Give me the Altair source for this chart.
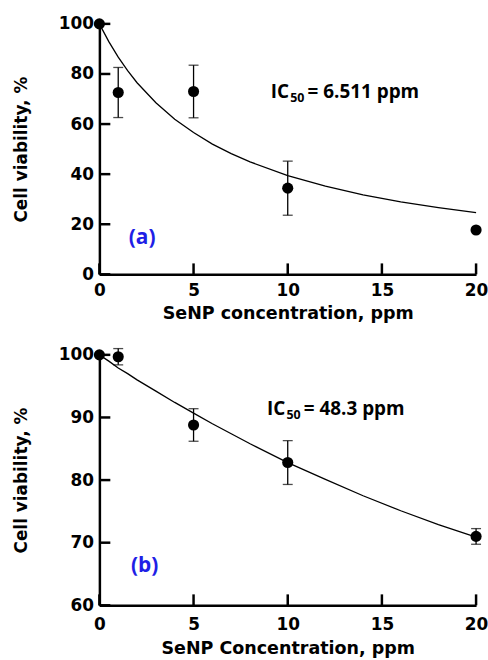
import altair as alt
import pandas as pd

# ---- data ----
conc = [0, 1, 5, 10, 20]
via_a = [100, 72.6, 73.0, 34.4, 17.7]
err_a = [0, 10.0, 10.5, 10.8, 0]
via_b = [100, 99.7, 88.8, 82.8, 71.0]
err_b = [0, 1.3, 2.6, 3.5, 1.25]

fit_x = [0, 0.5, 1, 1.5, 2, 3, 4, 5, 6, 7, 8, 10, 12, 14, 16, 18, 20]
fit_a = [100, 92.9, 86.7, 81.3, 76.5, 68.5, 61.9, 56.6, 52.0, 48.2, 44.9, 39.4, 35.2, 31.7, 28.9, 26.6, 24.6]
fit_b = [100, 99.0, 97.9, 97.0, 96.0, 94.2, 92.4, 90.7, 89.0, 87.4, 85.8, 82.8, 80.1, 77.5, 75.1, 72.9, 70.9]

x_ticks = [0, 5, 10, 15, 20]
y_ticks_a = [0, 20, 40, 60, 80, 100]
y_ticks_b = [60, 70, 80, 90, 100]

W, H = 379, 252
AX_FONT = "DejaVu Sans"
TXT_FONT = "Open Sans"


def panel(via, err, fit, yticks, ydom, xtitle, ic_val, ic_pos, tag, tag_pos, xlabpad, xtitlepad):
    xs = alt.Scale(domain=[0, 20], nice=False, zero=False)
    ys = alt.Scale(domain=ydom, nice=False, zero=False)
    xax = alt.Axis(values=x_ticks, title=xtitle, ticks=False, tickSize=0, grid=False,
                   labelFlush=False, labelPadding=xlabpad, titlePadding=xtitlepad,
                   domainWidth=2.5, domainColor="black", labelColor="black", titleColor="black",
                   labelFont=AX_FONT, labelFontSize=17, labelFontWeight="bold",
                   titleFont=AX_FONT, titleFontSize=17.6, titleFontWeight="bold")
    yax = alt.Axis(values=yticks, title="Cell viability, %", ticks=False, tickSize=0, grid=False,
                   labelFlush=False, labelPadding=6, titlePadding=28,
                   domainWidth=2.5, domainColor="black", labelColor="black", titleColor="black",
                   labelFont=AX_FONT, labelFontSize=17, labelFontWeight="bold",
                   titleFont=AX_FONT, titleFontSize=17, titleFontWeight="bold")

    def X(f):
        return alt.X(f, type="quantitative", scale=xs, axis=xax, title=xtitle)

    def Y(f):
        return alt.Y(f, type="quantitative", scale=ys, axis=yax, title="Cell viability, %")

    pts = pd.DataFrame({"x": conc, "y": via, "e": err})
    pts["lo"] = pts["y"] - pts["e"]
    pts["hi"] = pts["y"] + pts["e"]
    bars = pts[pts["e"] > 0]
    curve = pd.DataFrame({"x": fit_x, "y": fit})

    line = alt.Chart(curve).mark_line(color="black", strokeWidth=1.3).encode(x=X("x"), y=Y("y"))
    erule = alt.Chart(bars).mark_rule(color="black", strokeWidth=1.3).encode(
        x=X("x"), y=Y("lo"), y2="hi")
    cap_hi = alt.Chart(bars).mark_tick(color="black", orient="horizontal", size=10, thickness=1.3).encode(
        x=X("x"), y=Y("hi"))
    cap_lo = alt.Chart(bars).mark_tick(color="black", orient="horizontal", size=10, thickness=1.3).encode(
        x=X("x"), y=Y("lo"))
    dots = alt.Chart(pts).mark_circle(color="black", opacity=1, size=125).encode(x=X("x"), y=Y("y"))

    ytk = alt.Chart(pd.DataFrame({"v": yticks})).mark_rule(color="black", strokeWidth=2.5).encode(
        y=Y("v"), x=alt.value(0), x2=alt.value(11))
    xtk = alt.Chart(pd.DataFrame({"v": x_ticks})).mark_rule(color="black", strokeWidth=2.5).encode(
        x=X("v"), y=alt.value(H), y2=alt.value(H - 11))

    tx, ty = ic_pos
    ic1 = alt.Chart(pd.DataFrame({"t": ["IC"]})).mark_text(
        align="left", baseline="middle", font=TXT_FONT, fontSize=19, fontWeight="bold", color="black"
    ).encode(x=alt.datum(tx), y=alt.datum(ty), text="t:N")
    ic2 = alt.Chart(pd.DataFrame({"t": ["50"]})).mark_text(
        align="left", baseline="middle", font=TXT_FONT, fontSize=12.5, fontWeight="bold", color="black",
        dx=19.5, dy=6
    ).encode(x=alt.datum(tx), y=alt.datum(ty), text="t:N")
    ic3 = alt.Chart(pd.DataFrame({"t": ["= " + ic_val + " ppm"]})).mark_text(
        align="left", baseline="middle", font=TXT_FONT, fontSize=19, fontWeight="bold", color="black",
        dx=37
    ).encode(x=alt.datum(tx), y=alt.datum(ty), text="t:N")

    gx, gy = tag_pos
    tg = alt.Chart(pd.DataFrame({"t": [tag]})).mark_text(
        align="center", baseline="middle", font=TXT_FONT, fontSize=21, fontWeight="bold", color="#1f1fe6"
    ).encode(x=alt.datum(gx), y=alt.datum(gy), text="t:N")

    return alt.layer(line, erule, cap_hi, cap_lo, dots, ytk, xtk, ic1, ic2, ic3, tg).properties(
        width=W, height=H)


top = panel(via_a, err_a, fit_a, y_ticks_a, [0, 100], "SeNP concentration, ppm",
            "6.511", (9.1, 72.6), "(a)", (2.27, 14.3), 8, 6)
bottom = panel(via_b, err_b, fit_b, y_ticks_b, [60, 100], "SeNP Concentration, ppm",
               "48.3", (8.9, 91.3), "(b)", (2.4, 66.2), 11, 7)

chart = alt.vconcat(top, bottom, spacing=24).properties(
    padding={"left": 12, "top": 13, "right": 0, "bottom": 0},
    background="white",
).configure_view(stroke=None)

chart.save("out.html", embed_options={"renderer": "svg", "actions": False})
